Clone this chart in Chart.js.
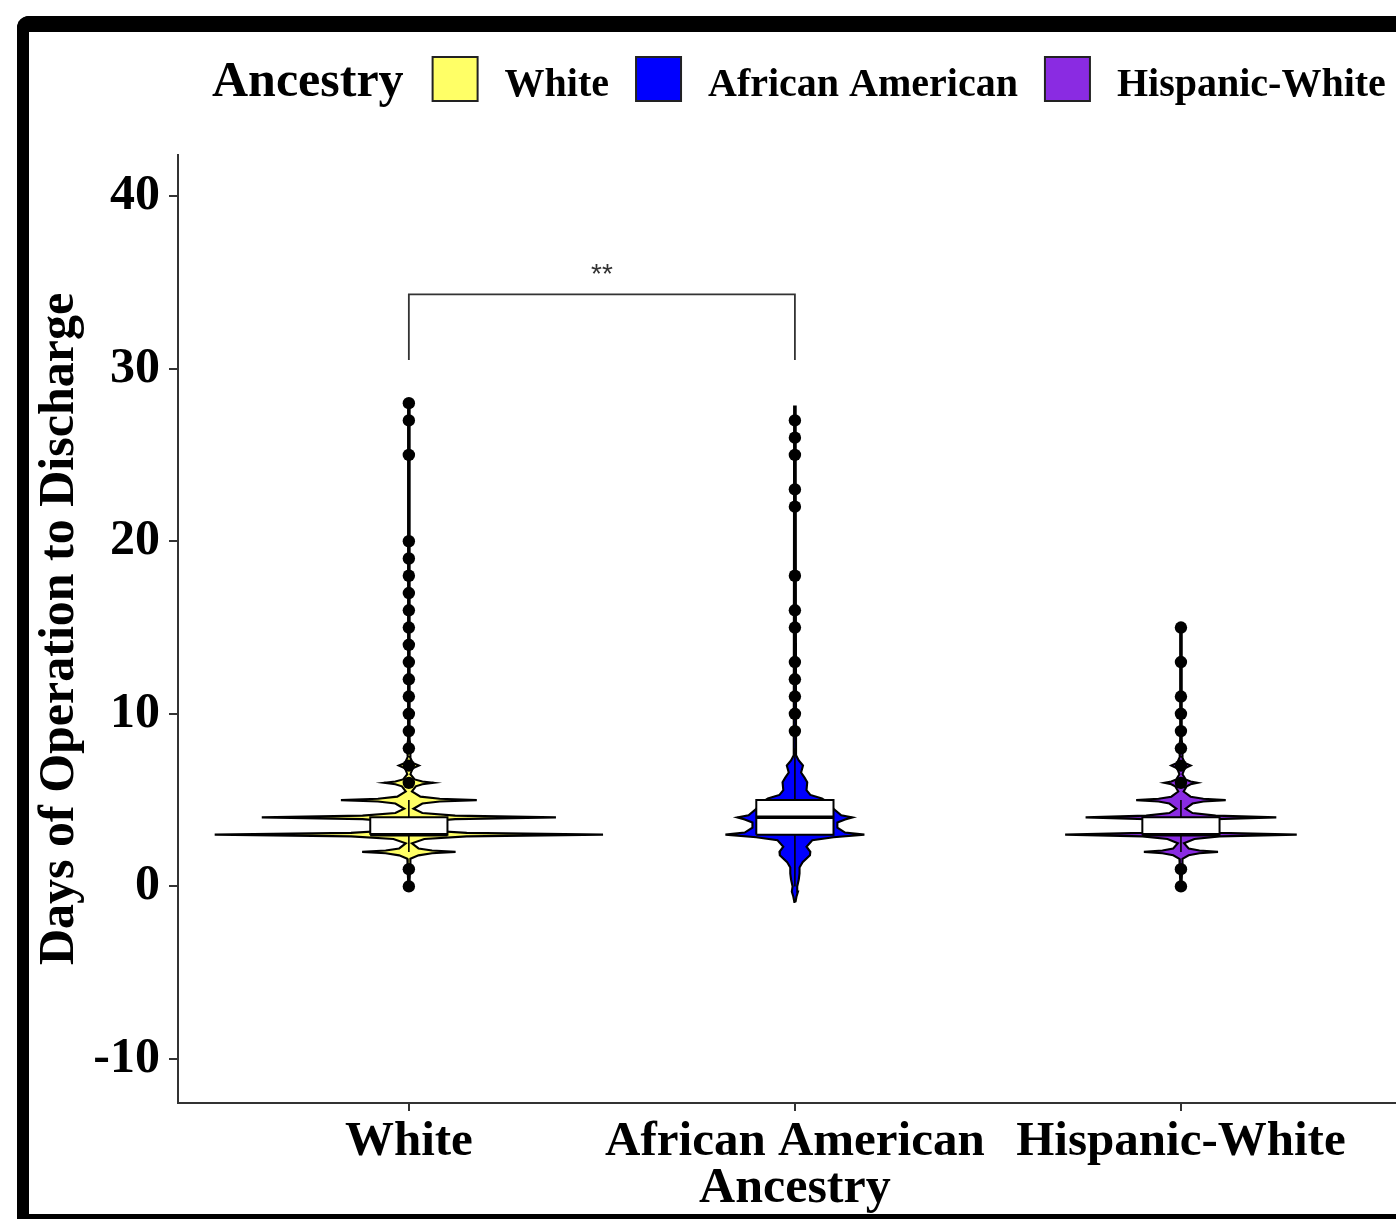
<!DOCTYPE html>
<html><head><meta charset="utf-8">
<script src="https://cdn.jsdelivr.net/npm/chart.js@4"></script>
<style>
html,body{margin:0;padding:0;background:#fff;overflow:hidden;width:1396px;height:1219px;}
#wrap{position:absolute;left:0;top:0;width:1418px;height:1219px;}
#frame{position:absolute;left:17px;top:16px;width:1500px;height:1214px;box-sizing:border-box;border:solid #000;border-width:16px 0 16px 12px;border-radius:12px 0 0 12px;pointer-events:none;}
</style></head><body>
<div id="wrap"><canvas id="c" width="1418" height="1219"></canvas></div>
<div id="frame"></div>
<script>
// ---- data ----
const categories = ['White', 'African American', 'Hispanic-White'];
const colors = ['#FFFF66', '#0000FF', '#8A2BE2'];
const legendTitle = 'Ancestry';
const xTitle = 'Ancestry';
const yTitle = 'Days of Operation to Discharge';
const yTicks = [-10, 0, 10, 20, 30, 40];

const q1 = [3, 3, 3];
const median = [3, 4, 3];
const q3 = [4, 5, 4];
const whiskerLow = [2, 0, 2];
const whiskerHigh = [5, 8, 5];

const whiteOutliers = [0, 1, 6, 7, 8, 9, 10, 11, 12, 13, 14, 15, 16, 17, 18, 19, 20, 25, 27, 28];
const aaOutliers = [9, 10, 11, 12, 13, 15, 16, 18, 22, 23, 25, 26, 27];
const hispOutliers = [0, 1, 6, 7, 8, 9, 10, 11, 13, 15];

// violin half-widths (category units) at y values
const whiteViolinY = [0,0.4,0.85,1,1.15,1.6,1.8,1.92,2,2.08,2.2,2.5,2.75,2.9,3,3.1,3.25,3.5,3.75,3.9,4,4.1,4.25,4.5,4.8,4.92,5,5.08,5.2,5.5,5.8,5.92,6,6.08,6.2,6.5,6.85,7,7.15,7.5,7.85,8,8.15,8.5,28];
const whiteViolinW = [0.002,0.002,0.003,0.012,0.003,0.004,0.025,0.06,0.121,0.06,0.025,0.008,0.04,0.15,0.503,0.15,0.04,0.015,0.04,0.12,0.381,0.12,0.035,0.012,0.035,0.08,0.176,0.08,0.03,0.008,0.018,0.035,0.064,0.035,0.015,0.004,0.01,0.026,0.01,0.003,0.004,0.008,0.004,0.002,0.002];
const aaViolinY = [-0.9,-0.6,-0.3,0,0.4,0.75,1.1,1.4,1.8,2,2.3,2.67,2.85,3,3.12,3.4,3.7,3.88,4,4.12,4.5,4.8,5.1,5.3,5.57,6.04,6.3,6.6,7,7.3,7.6,27.8];
const aaViolinW = [0.0015,0.004,0.008,0.006,0.01,0.012,0.012,0.02,0.039,0.04,0.03,0.045,0.1,0.18,0.13,0.11,0.11,0.13,0.149,0.12,0.1,0.09,0.07,0.04,0.03,0.032,0.025,0.016,0.021,0.01,0.003,0.002];
const hispViolinY = [0,0.4,0.85,1,1.15,1.6,1.8,1.92,2,2.08,2.2,2.5,2.75,2.9,3,3.1,3.25,3.5,3.75,3.9,4,4.1,4.25,4.5,4.8,4.92,5,5.08,5.2,5.5,5.8,5.92,6,6.08,6.2,6.5,6.85,7,7.15,7.5,7.85,8,8.15,8.5,15];
const hispViolinW = [0.002,0.002,0.003,0.01,0.003,0.004,0.02,0.048,0.096,0.048,0.02,0.008,0.035,0.1,0.30,0.1,0.035,0.015,0.035,0.09,0.247,0.09,0.03,0.012,0.03,0.058,0.116,0.058,0.025,0.007,0.015,0.025,0.043,0.025,0.012,0.004,0.01,0.025,0.01,0.003,0.004,0.008,0.004,0.002,0.002];

const sigComparisons = [{from: 1, to: 2, y: 34.3, leg: 30.5, label: '**'}];

// ---- build datasets ----
const violinY = [whiteViolinY, aaViolinY, hispViolinY];
const violinW = [whiteViolinW, aaViolinW, hispViolinW];
const outliers = [whiteOutliers, aaOutliers, hispOutliers];
const BOX_HALF = 0.1;
const FONT = '"Liberation Serif", "Times New Roman", serif';

const datasets = [];
categories.forEach((cat, i) => {
  const c = i + 1;
  const ys = violinY[i], ws = violinW[i];
  const pts = [];
  for (let k = 0; k < ys.length; k++) pts.push({x: c + ws[k], y: ys[k]});
  for (let k = ys.length - 1; k >= 0; k--) pts.push({x: c - ws[k], y: ys[k]});
  pts.push(pts[0]);
  datasets.push({label: cat + ' violin', data: pts, showLine: true, fill: 'shape', backgroundColor: colors[i],
    borderColor: '#000', borderWidth: 2.1, pointRadius: 0, tension: 0, order: 5});
  datasets.push({label: cat + ' whisker', data: [{x: c, y: whiskerLow[i]}, {x: c, y: whiskerHigh[i]}], showLine: true,
    borderColor: '#000', borderWidth: 1.6, pointRadius: 0, fill: false, order: 4});
  datasets.push({label: cat + ' box', data: [{x: c - BOX_HALF, y: q1[i]}, {x: c + BOX_HALF, y: q1[i]}, {x: c + BOX_HALF, y: q3[i]}, {x: c - BOX_HALF, y: q3[i]}, {x: c - BOX_HALF, y: q1[i]}],
    showLine: true, fill: 'shape', backgroundColor: '#fff', borderColor: '#000', borderWidth: 2, pointRadius: 0, tension: 0, order: 3});
  datasets.push({label: cat + ' median', data: [{x: c - BOX_HALF, y: median[i]}, {x: c + BOX_HALF, y: median[i]}], showLine: true,
    borderColor: '#000', borderWidth: 3.5, pointRadius: 0, fill: false, order: 2});
  datasets.push({label: cat + ' outliers', data: outliers[i].map(v => ({x: c, y: v})), showLine: false,
    pointRadius: 6.2, pointBackgroundColor: '#000', pointBorderWidth: 0, order: 1});
});

const legendPlugin = {
  id: 'customLegend',
  afterDraw(chart) {
    const ctx = chart.ctx;
    ctx.save();
    let x = 212;
    const base = 96;
    ctx.textBaseline = 'alphabetic';
    ctx.textAlign = 'left';
    ctx.fillStyle = '#000';
    ctx.font = 'bold 50px ' + FONT;
    ctx.fillText(legendTitle, x, base);
    x += ctx.measureText(legendTitle).width + 29;
    ctx.font = 'bold 40px ' + FONT;
    categories.forEach((cat, i) => {
      ctx.fillStyle = colors[i];
      ctx.fillRect(x, 57, 45, 44);
      ctx.strokeStyle = '#222';
      ctx.lineWidth = 2;
      ctx.strokeRect(x, 57, 45, 44);
      x += 45 + 27;
      ctx.fillStyle = '#000';
      ctx.fillText(cat, x, base);
      x += ctx.measureText(cat).width + 27;
    });
    ctx.restore();
  }
};

const bracketPlugin = {
  id: 'bracket',
  afterDatasetsDraw(chart) {
    const ctx = chart.ctx, sx = chart.scales.x, sy = chart.scales.y;
    ctx.save();
    sigComparisons.forEach(s => {
      const x1 = sx.getPixelForValue(s.from), x2 = sx.getPixelForValue(s.to);
      const yt = sy.getPixelForValue(s.y), yb = sy.getPixelForValue(s.leg);
      ctx.strokeStyle = '#333';
      ctx.lineWidth = 1.8;
      ctx.beginPath();
      ctx.moveTo(x1, yb); ctx.lineTo(x1, yt); ctx.lineTo(x2, yt); ctx.lineTo(x2, yb);
      ctx.stroke();
      ctx.fillStyle = '#333';
      ctx.font = '28px "Liberation Sans", Arial, sans-serif';
      ctx.textAlign = 'center';
      ctx.textBaseline = 'alphabetic';
      ctx.fillText(s.label, (x1 + x2) / 2, yt - 11);
    });
    ctx.restore();
  }
};

new Chart(document.getElementById('c'), {
  type: 'scatter',
  data: {datasets},
  options: {
    responsive: false,
    animation: false,
    events: [],
    layout: {padding: {top: 155, left: 0, right: 0, bottom: 0}},
    plugins: {legend: {display: false}, tooltip: {enabled: false}},
    scales: {
      x: {
        type: 'linear', min: 0.402, max: 3.598,
        afterFit(s) { s.height = 116; },
        afterBuildTicks(s) { s.ticks = categories.map((c, i) => ({value: i + 1})); },
        ticks: {callback: (v, idx) => categories[idx], font: {family: FONT, weight: 'bold', size: 49}, color: '#000',
          padding: 2, maxRotation: 0, minRotation: 0, autoSkip: false},
        grid: {display: true, drawOnChartArea: false, drawTicks: true, tickLength: 8, color: '#333', lineWidth: 2},
        border: {display: true, color: '#333', width: 2},
        title: {display: true, text: xTitle, font: {family: FONT, weight: 'bold', size: 50}, color: '#000', padding: {top: 0, bottom: 0}}
      },
      y: {
        type: 'linear', min: -12.55, max: 42.38,
        afterFit(s) { s.width = 178; },
        afterBuildTicks(s) { s.ticks = yTicks.map(v => ({value: v})); },
        ticks: {font: {family: FONT, weight: 'bold', size: 50}, color: '#000', padding: 9},
        grid: {display: true, drawOnChartArea: false, drawTicks: true, tickLength: 9, color: '#333', lineWidth: 2},
        border: {display: true, color: '#333', width: 2},
        title: {display: true, text: yTitle, font: {family: FONT, weight: 'bold', size: 50}, color: '#000', padding: {top: 30, bottom: 0}}
      }
    }
  },
  plugins: [legendPlugin, bracketPlugin]
});
</script>
</body></html>
